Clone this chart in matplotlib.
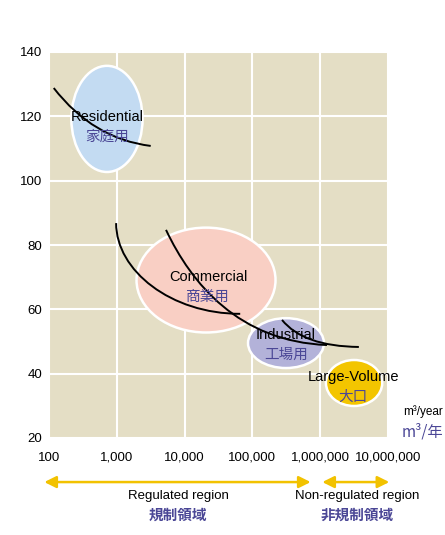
import numpy as np
import matplotlib.pyplot as plt
from matplotlib.patches import Ellipse, PathPatch
from matplotlib.path import Path

plt.rcParams['font.family'] = ['Liberation Sans', 'Noto Sans CJK JP', 'DejaVu Sans']

JP = ['Noto Sans CJK JP', 'DejaVu Sans']
PURPLE = '#4b4796'

# segments (ellipses): centre volume (m3/year), log-width (decades), centre price, price height
seg_en = ['Residential', 'Commercial', 'Industrial', 'Large-Volume']
seg_jp = ['家庭用', '商業用', '工場用', '大口']
seg_vol = [716, 20700, 313000, 3160000]
seg_wdec = [1.05, 2.05, 1.12, 0.83]
seg_price = [119.2, 69.1, 49.5, 37.1]
seg_h = [33.0, 32.6, 15.5, 14.3]
seg_col = ['#c3dbf2', '#f9cfc4', '#b3b2d9', '#f3c500']
lbl_vol = [716, 22100, 313000, 3050000]
lbl_price = [119.8, 70.1, 52.0, 39.0]

# price curves as bezier (start, control(s), end): log10 volume, price
c1_logv = [2.07, 2.65, 3.50]
c1_price = [128.8, 113.0, 110.8]
c2_logv = [2.99, 2.99, 3.80, 4.82]
c2_price = [86.8, 72.0, 58.6, 58.6]
c3_logv = [3.726, 4.10, 4.80, 6.10]
c3_price = [84.7, 68.0, 50.0, 48.9]
c4_logv = [5.437, 5.75, 6.57]
c4_price = [56.7, 48.5, 48.3]

xticks = [100, 1000, 10000, 100000, 1000000, 10000000]
xtick_labels = ['100', '1,000', '10,000', '100,000', '1,000,000', '10,000,000']
yticks = [20, 40, 60, 80, 100, 120, 140]

fig = plt.figure(figsize=(4.45, 5.35), dpi=100)
ax = fig.add_axes([49 / 445, 1 - 438 / 535, 339 / 445, 386 / 535])
ax.set_facecolor('#e4dec5')
ax.set_xlim(2, 7)
ax.set_ylim(20, 140)
for s in ax.spines.values():
    s.set_visible(False)
ax.set_xticks(np.log10(xticks))
ax.set_xticklabels(xtick_labels, fontsize=9.5)
ax.set_yticks(yticks)
ax.set_yticklabels([str(v) for v in yticks], fontsize=9.5)
ax.tick_params(length=0, pad=10, axis='x')
ax.tick_params(length=0, pad=5, axis='y')
ax.grid(True, color='white', linewidth=1.5)
ax.set_axisbelow(True)

for i in range(len(seg_en)):
    e = Ellipse((np.log10(seg_vol[i]), seg_price[i]), seg_wdec[i], seg_h[i],
                facecolor=seg_col[i], edgecolor='white', linewidth=1.8, zorder=2)
    ax.add_patch(e)

for v, p in [(c1_logv, c1_price), (c2_logv, c2_price), (c3_logv, c3_price), (c4_logv, c4_price)]:
    code = Path.CURVE3 if len(v) == 3 else Path.CURVE4
    codes = [Path.MOVETO] + [code] * (len(v) - 1)
    ax.add_patch(PathPatch(Path(np.column_stack([v, p]), codes), fill=False,
                           edgecolor='black', linewidth=1.4, zorder=3))

for i in range(len(seg_en)):
    x = np.log10(lbl_vol[i])
    ax.text(x, lbl_price[i], seg_en[i], ha='center', va='center', fontsize=10.5, zorder=4)
    ax.text(x, lbl_price[i] - 6.1, seg_jp[i], ha='center', va='center', fontsize=10.5,
            color=PURPLE, family=JP, zorder=4)

# unit labels
fig.text(443 / 445, 1 - 412 / 535, 'm³/year', ha='right', va='center', fontsize=8.5)
fig.text(443 / 445, 1 - 432 / 535, 'm³/年', ha='right', va='center', fontsize=11,
         color=PURPLE, family=JP)

# regulated / non-regulated arrows
arrow_kw = dict(arrowstyle='<|-|>,head_length=0.7,head_width=0.35', color='#f2c200', lw=1.8)
ax.annotate('', xy=(1.89, 6.3), xytext=(5.9, 6.3), xycoords='data', annotation_clip=False,
            arrowprops=arrow_kw)
ax.annotate('', xy=(5.99, 6.3), xytext=(7.06, 6.3), xycoords='data', annotation_clip=False,
            arrowprops=arrow_kw)

fig.text(178 / 445, 1 - 496 / 535, 'Regulated region', ha='center', va='center', fontsize=9.5)
fig.text(178 / 445, 1 - 515 / 535, '規制領域', ha='center', va='center', fontsize=10.5,
         color=PURPLE, family=JP, weight='bold')
fig.text(357 / 445, 1 - 496 / 535, 'Non-regulated region', ha='center', va='center', fontsize=9.5)
fig.text(357 / 445, 1 - 515 / 535, '非規制領域', ha='center', va='center', fontsize=10.5,
         color=PURPLE, family=JP, weight='bold')

fig.savefig('out.png', dpi=100)
